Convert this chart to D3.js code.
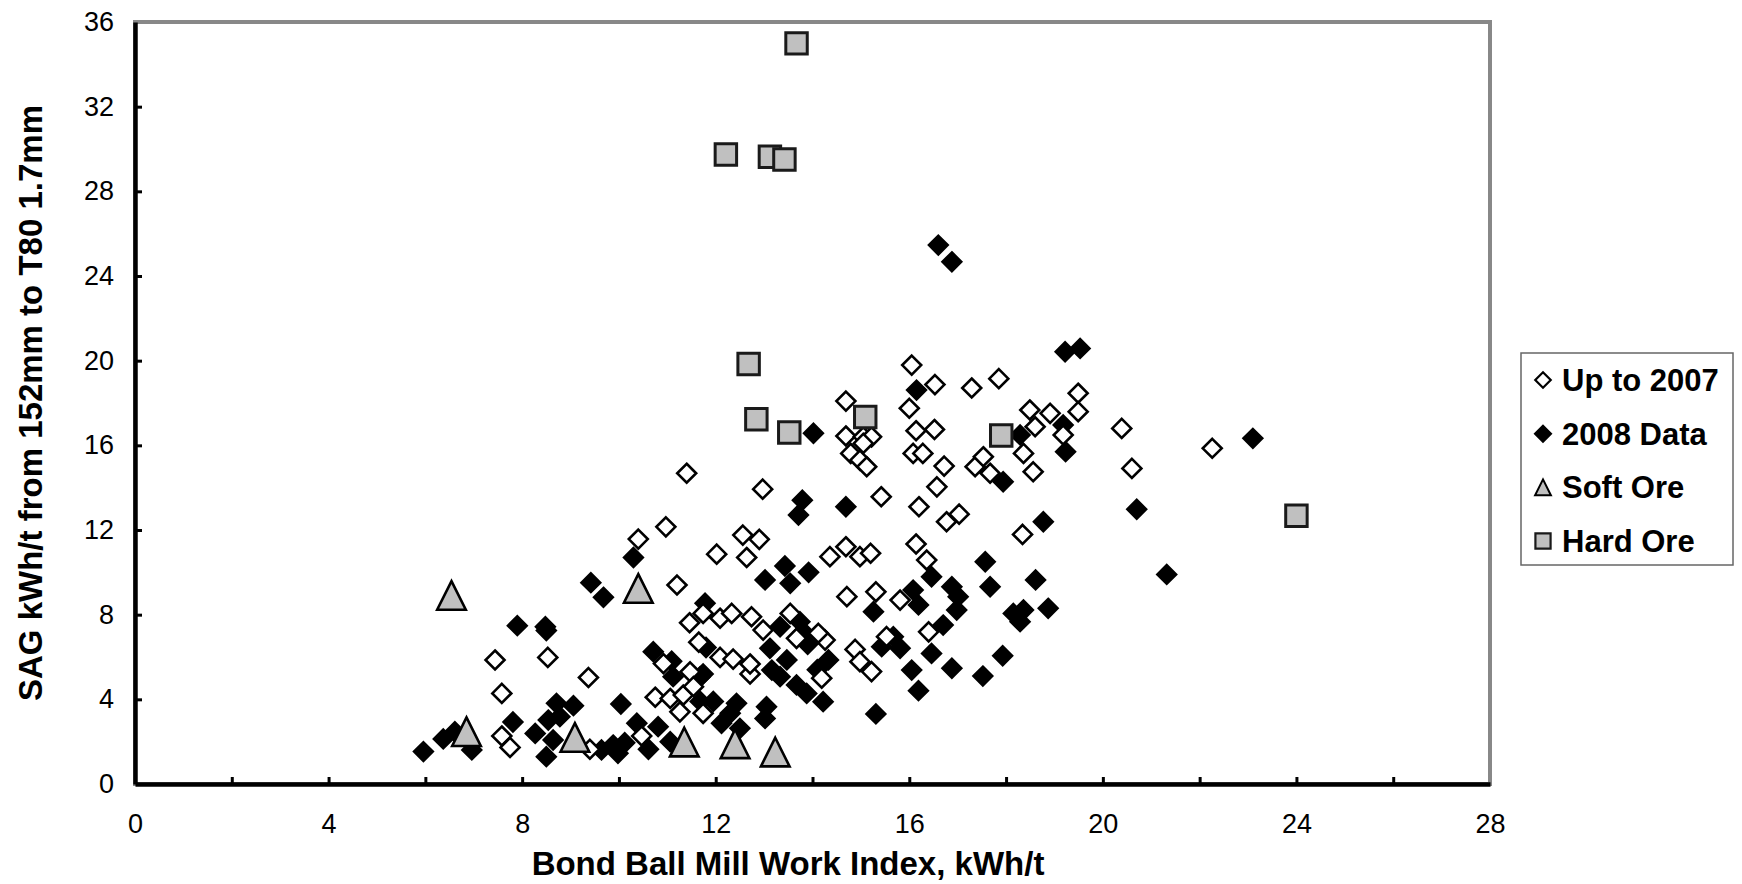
<!DOCTYPE html>
<html>
<head>
<meta charset="utf-8">
<script src="https://cdn.jsdelivr.net/npm/d3@7"></script>
<style>
  html, body { margin: 0; padding: 0; background: #ffffff; }
  svg { display: block; }
  text { font-family: "Liberation Sans", Arial, sans-serif; fill: #000; }
</style>
</head>
<body>
<svg id="chart" width="1742" height="884"></svg>
<script>
// ---------- data ----------
const seriesNames = ["Up to 2007", "2008 Data", "Soft Ore", "Hard Ore"];
const xTickValues = [0, 2, 4, 6, 8, 10, 12, 14, 16, 18, 20, 22, 24, 26, 28];
const xLabelValues = [0, 4, 8, 12, 16, 20, 24, 28];
const yTickValues = [0, 4, 8, 12, 16, 20, 24, 28, 32, 36];
const xTitle = "Bond Ball Mill Work Index, kWh/t";
const yTitle = "SAG kWh/t from 152mm to T80 1.7mm";

// Up to 2007 (open diamonds) [BWi, SAG]
const upTo2007 = [
  [11.2,9.4],[11.46,7.62],[11.74,8.06],[7.44,5.86],[8.53,5.98],[9.37,5.03],[7.58,4.28],
  [10.92,5.69],[11.47,5.3],[10.75,4.1],[11.06,4.04],[11.33,4.2],[11.26,3.41],[11.54,4.6],
  [7.58,2.27],[7.75,1.73],[9.4,1.64],[10.47,2.27],[11.65,6.7],
  [14.71,8.85],[15.31,9.08],[15.81,8.69],[16.4,7.19],[14.88,6.36],[14.98,5.78],[15.22,5.31],
  [15.53,6.96],[12.09,7.83],[12.33,8.06],[12.74,7.9],[12.98,7.27],[13.54,8.06],[13.67,6.88],
  [14.26,6.8],[14.12,7.12],[14.19,5.0],[12.71,5.2],[12.71,5.67],[12.09,5.98],[12.36,5.9],[11.74,3.34],
  [16.05,19.79],[16.53,18.87],[17.29,18.71],[17.85,19.15],[14.69,18.09],[16.0,17.75],[16.14,16.69],
  [16.52,16.75],[14.69,16.44],[15.05,16.4],[15.22,16.4],[15.05,16.09],[14.79,15.62],[14.98,15.3],
  [15.12,14.99],[16.08,15.62],[16.28,15.62],[16.72,15.02],[16.57,14.04],[17.36,14.99],[17.53,15.46],
  [17.67,14.68],[11.4,14.68],[12.97,13.93],[15.42,13.57],[16.2,13.1],[16.77,12.39],[17.03,12.75],
  [16.14,11.34],[16.36,10.58],[10.4,11.57],[10.97,12.15],[12.02,10.86],[12.56,11.76],[12.9,11.56],
  [12.64,10.7],[14.36,10.74],[14.69,11.21],[14.98,10.74],[15.2,10.9],
  [19.49,18.46],[19.49,17.59],[18.49,17.67],[18.91,17.51],[18.6,16.88],[19.18,16.49],[18.36,15.62],
  [18.56,14.75],[20.39,16.8],[20.6,14.91],[22.26,15.86],[18.34,11.79]
];

// 2008 Data (black diamonds)
const data2008 = [
  [10.3,10.7],[9.42,9.51],[9.68,8.82],[11.78,8.54],[7.9,7.48],[8.48,7.43],[8.5,7.25],[10.04,3.78],
  [10.71,6.25],[11.09,5.8],[11.12,5.07],[11.68,5.07],[11.68,3.9],[7.81,2.93],[5.96,1.53],[6.37,2.13],
  [6.61,2.47],[6.96,1.61],[8.71,3.81],[9.06,3.7],[8.54,3.02],[8.27,2.39],[8.78,3.18],[8.5,1.29],
  [8.64,2.08],[9.64,1.61],[9.88,1.84],[10.12,1.95],[9.98,1.45],[10.37,2.87],[10.81,2.71],[10.61,1.64],
  [11.06,2.0],[11.8,6.45],
  [13.43,10.3],[13.02,9.64],[13.54,9.48],[13.92,10.0],[17.57,10.5],[16.46,9.79],[17.67,9.32],[16.08,9.16],
  [15.26,8.14],[16.19,8.46],[16.88,9.32],[17.01,8.85],[16.98,8.22],[16.7,7.51],[17.93,6.06],[15.67,6.96],
  [15.43,6.49],[15.81,6.41],[16.46,6.17],[16.05,5.38],[16.88,5.47],[17.52,5.1],[16.19,4.41],[15.31,3.31],
  [13.33,7.43],[13.74,7.67],[13.81,7.19],[13.12,6.41],[13.47,5.86],[14.33,5.86],[13.33,5.07],[13.16,5.38],
  [13.67,4.68],[13.88,4.28],[14.22,3.89],[13.05,3.65],[13.02,3.1],[12.43,3.81],[11.74,5.2],[12.12,2.87],
  [12.5,2.63],[12.3,3.34],[11.95,3.9],[13.9,6.6],[14.1,5.4],
  [16.15,18.61],[13.79,13.41],[13.71,12.71],[14.69,13.1],[14.02,16.57],
  [19.22,20.42],[19.53,20.58],[19.18,16.96],[18.29,16.49],[19.23,15.7],[17.94,14.28],[23.1,16.33],
  [20.7,12.98],[18.77,12.39],[21.32,9.9],
  [18.61,9.64],[18.15,8.06],[18.36,8.22],[18.29,7.67],[18.87,8.3],
  [16.6,25.46],[16.88,24.67]
];

// Soft Ore (grey triangles)
const softOre = [
  [6.54,8.91],[10.40,9.24],[6.85,2.47],[9.09,2.2],[11.35,1.98],[12.4,1.9],[13.23,1.51]
];

// Hard Ore (grey squares)
const hardOre = [
  [13.67,34.99],[12.21,29.74],[13.12,29.63],[13.42,29.5],[12.68,19.84],[12.84,17.23],
  [13.52,16.61],[15.09,17.34],[17.9,16.46],[24.0,12.67]
];

// ---------- layout ----------
const svg = d3.select("#chart");
const X0 = 135, X1 = 1490, Y0 = 784, Y1 = 22;
const x = d3.scaleLinear().domain([0, 28]).range([X0, X1]);
const y = d3.scaleLinear().domain([0, 36]).range([Y0, Y1]);

// custom symbol types
const diamondType = { draw(ctx, size) { const r = Math.sqrt(size / 2);
  ctx.moveTo(0, -r); ctx.lineTo(r, 0); ctx.lineTo(0, r); ctx.lineTo(-r, 0); ctx.closePath(); } };
const triType = { draw(ctx, size) { const w = Math.sqrt(2 * size), h = w;
  ctx.moveTo(0, -h / 2); ctx.lineTo(w / 2, h / 2); ctx.lineTo(-w / 2, h / 2); ctx.closePath(); } };

// frame (top/right grey)
svg.append("rect").attr("x", X0).attr("y", Y1).attr("width", X1 - X0).attr("height", Y0 - Y1)
  .attr("fill", "#fff").attr("stroke", "#888").attr("stroke-width", 4);

// axes
const xAxis = d3.axisBottom(x).tickValues(xTickValues).tickSizeInner(-7).tickSizeOuter(0).tickPadding(30)
  .tickFormat(d => xLabelValues.includes(d) ? d3.format("d")(d) : "");
const yAxis = d3.axisLeft(y).tickValues(yTickValues).tickSizeInner(-7).tickSizeOuter(0).tickPadding(21)
  .tickFormat(d3.format("d"));

const gx = svg.append("g").attr("transform", `translate(0,${Y0})`).call(xAxis);
const gy = svg.append("g").attr("transform", `translate(${X0},0)`).call(yAxis);
[gx, gy].forEach(g => {
  g.select(".domain").attr("stroke", "#000").attr("stroke-width", 4.5);
  g.selectAll(".tick line").attr("stroke", "#000").attr("stroke-width", 3);
  g.selectAll(".tick text").attr("font-size", 27).attr("font-family", "Liberation Sans, Arial, sans-serif").attr("fill", "#000");
});
// hide ticks at the ends that collide with the frame
gx.selectAll(".tick").filter(d => d === 0 || d === 28).select("line").remove();
gy.selectAll(".tick").filter(d => d === 0 || d === 36).select("line").remove();

// axis titles
svg.append("text").attr("x", 788).attr("y", 875).attr("text-anchor", "middle")
  .attr("font-size", 33).attr("font-weight", "bold").text(xTitle);
svg.append("text").attr("transform", `translate(42,403) rotate(-90)`).attr("text-anchor", "middle")
  .attr("font-size", 33).attr("font-weight", "bold").text(yTitle);

// points
const plot = svg.append("g");
function drawSeries(data, type, size, fill, stroke, sw) {
  plot.append("g").selectAll("path").data(data).join("path")
    .attr("transform", d => `translate(${x(d[0])},${y(d[1])})`)
    .attr("d", d3.symbol().type(type).size(size))
    .attr("fill", fill).attr("stroke", stroke).attr("stroke-width", sw).attr("stroke-linejoin", "miter");
}
drawSeries(data2008, diamondType, 190, "#000", "#000", 2);
drawSeries(upTo2007, diamondType, 180, "#fff", "#000", 2.6);
drawSeries(softOre, triType, 410, "#c0c0c0", "#000", 2.6);
drawSeries(hardOre, d3.symbolSquare, 460, "#c0c0c0", "#1a1a1a", 3);

// legend
const lg = svg.append("g");
lg.append("rect").attr("x", 1521).attr("y", 353).attr("width", 212).attr("height", 212)
  .attr("fill", "#fff").attr("stroke", "#666").attr("stroke-width", 1.5);
const legendStyles = [
  { type: diamondType, size: 120, fill: "#fff", stroke: "#000", sw: 2.2 },
  { type: diamondType, size: 130, fill: "#000", stroke: "#000", sw: 2 },
  { type: triType, size: 125, fill: "#c0c0c0", stroke: "#000", sw: 2 },
  { type: d3.symbolSquare, size: 230, fill: "#c0c0c0", stroke: "#1a1a1a", sw: 2.2 }
];
const rowY = d3.scalePoint().domain(seriesNames).range([380, 541]);
seriesNames.forEach((name, i) => {
  const st = legendStyles[i];
  lg.append("path").attr("transform", `translate(1543,${rowY(name)})`)
    .attr("d", d3.symbol().type(st.type).size(st.size))
    .attr("fill", st.fill).attr("stroke", st.stroke).attr("stroke-width", st.sw);
  lg.append("text").attr("x", 1562).attr("y", rowY(name) + 11)
    .attr("font-size", 31).attr("font-weight", "bold").text(name);
});
</script>
</body>
</html>
